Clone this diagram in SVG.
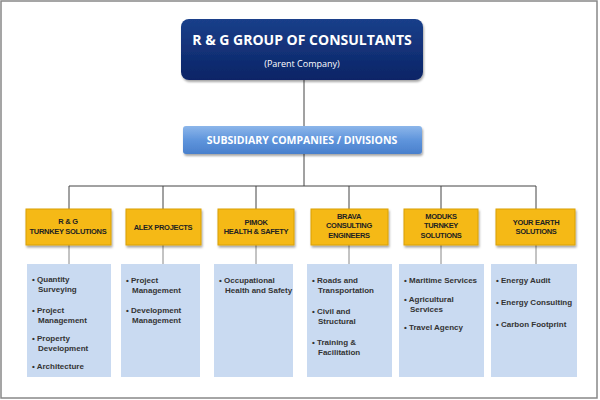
<svg xmlns="http://www.w3.org/2000/svg" width="600" height="400" viewBox="0 0 600 400">
<defs>
<linearGradient id="gTop" x1="0" y1="0" x2="0" y2="1"><stop offset="0" stop-color="#1a3f8a"/><stop offset="1" stop-color="#0b2466"/></linearGradient>
<linearGradient id="gSub" x1="0" y1="0" x2="0" y2="1"><stop offset="0" stop-color="#8cb6ea"/><stop offset="0.5" stop-color="#5f95dc"/><stop offset="1" stop-color="#4a80cc"/></linearGradient>
<filter id="sh" x="-10%" y="-10%" width="130%" height="140%"><feDropShadow dx="1" dy="2" stdDeviation="1.2" flood-color="#000" flood-opacity="0.35"/></filter>
</defs>
<style>
.y{fill:#f5b914;stroke:#d9a00c;stroke-width:1;filter:url(#sh)}
.yt{font-family:"Liberation Sans",Arial,sans-serif;font-size:7.5px;font-weight:bold;fill:#222;text-anchor:middle;letter-spacing:-0.3px}
.b{fill:#c9daf1}
.bt{font-family:"Liberation Sans",Arial,sans-serif;font-size:8px;font-weight:bold;fill:#333}
.ln{stroke:#444;stroke-width:1;fill:none}
.ln2{stroke:#888;stroke-width:1;fill:none}
</style>
<rect x="1" y="1" width="596" height="397" fill="#fff" stroke="#888" stroke-width="1.5"/>
<g id="connectors">
<path class="ln" d="M304 80V126M304 154V186M69 186H536M69 186V209M163 186V209M256 186V209M349 186V209M441 186V209M536 186V209"/>
<path class="ln2" d="M69 245V264M163 245V264M256 245V264M349 245V264M441 245V264M536 245V264"/>
</g>
<g id="parent">
<rect x="181" y="19" width="242" height="61" rx="8" fill="url(#gTop)" filter="url(#sh)"/>
<text x="302" y="45" text-anchor="middle" font-family="'Open Sans','Liberation Sans',sans-serif" font-size="14" font-weight="bold" fill="#fff">R &amp; G GROUP OF CONSULTANTS</text>
<text x="302" y="67" text-anchor="middle" font-family="'Open Sans','Liberation Sans',sans-serif" font-size="9" fill="#fff">(Parent Company)</text>
</g>
<g id="subsidiary">
<rect x="183" y="126" width="239" height="28" rx="3" fill="url(#gSub)" filter="url(#sh)"/>
<text x="302" y="144" text-anchor="middle" font-family="'Open Sans','Liberation Sans',sans-serif" font-size="10.5" font-weight="bold" fill="#fff">SUBSIDIARY COMPANIES / DIVISIONS</text>
</g>
<g id="rg">
<rect class="y" x="26" y="209" width="85" height="36"/>
<text class="yt" x="68" y="224">R &amp; G</text><text class="yt" x="68" y="234">TURNKEY SOLUTIONS</text>
<rect class="b" x="27" y="264" width="84" height="113"/>
<text class="bt" x="32" y="282">• Quantity</text><text class="bt" x="38" y="292">Surveying</text>
<text class="bt" x="32" y="313">• Project</text><text class="bt" x="38" y="323">Management</text>
<text class="bt" x="32" y="341">• Property</text><text class="bt" x="38" y="351">Development</text>
<text class="bt" x="32" y="369">• Architecture</text>
</g>
<g id="alex">
<rect class="y" x="126" y="209" width="75" height="36"/>
<text class="yt" x="163" y="230">ALEX PROJECTS</text>
<rect class="b" x="121" y="264" width="79" height="113"/>
<text class="bt" x="126" y="283">• Project</text><text class="bt" x="132" y="293">Management</text>
<text class="bt" x="126" y="313">• Development</text><text class="bt" x="132" y="323">Management</text>
</g>
<g id="pimok">
<rect class="y" x="218" y="209" width="76" height="36"/>
<text class="yt" x="256" y="225">PIMOK</text><text class="yt" x="256" y="234">HEALTH &amp; SAFETY</text>
<rect class="b" x="214" y="264" width="79" height="113"/>
<text class="bt" x="219" y="283">• Occupational</text><text class="bt" x="225" y="293">Health and Safety</text>
</g>
<g id="brava">
<rect class="y" x="311" y="209" width="77" height="36"/>
<text class="yt" x="349" y="219">BRAVA</text><text class="yt" x="349" y="228">CONSULTING</text><text class="yt" x="349" y="238">ENGINEERS</text>
<rect class="b" x="307" y="264" width="85" height="113"/>
<text class="bt" x="312" y="283">• Roads and</text><text class="bt" x="318" y="293">Transportation</text>
<text class="bt" x="312" y="314">• Civil and</text><text class="bt" x="318" y="324">Structural</text>
<text class="bt" x="312" y="345">• Training &amp;</text><text class="bt" x="318" y="355">Facilitation</text>
</g>
<g id="moduks">
<rect class="y" x="404" y="209" width="74" height="36"/>
<text class="yt" x="441" y="219">MODUKS</text><text class="yt" x="441" y="228">TURNKEY</text><text class="yt" x="441" y="238">SOLUTIONS</text>
<rect class="b" x="399" y="264" width="85" height="113"/>
<text class="bt" x="404" y="283">• Maritime Services</text>
<text class="bt" x="404" y="302">• Agricultural</text><text class="bt" x="410" y="312">Services</text>
<text class="bt" x="404" y="330">• Travel Agency</text>
</g>
<g id="yourearth">
<rect class="y" x="496" y="209" width="79" height="36"/>
<text class="yt" x="536" y="225">YOUR EARTH</text><text class="yt" x="536" y="234">SOLUTIONS</text>
<rect class="b" x="491" y="264" width="86" height="113"/>
<text class="bt" x="496" y="283">• Energy Audit</text>
<text class="bt" x="496" y="305">• Energy Consulting</text>
<text class="bt" x="496" y="327">• Carbon Footprint</text>
</g>
</svg>
